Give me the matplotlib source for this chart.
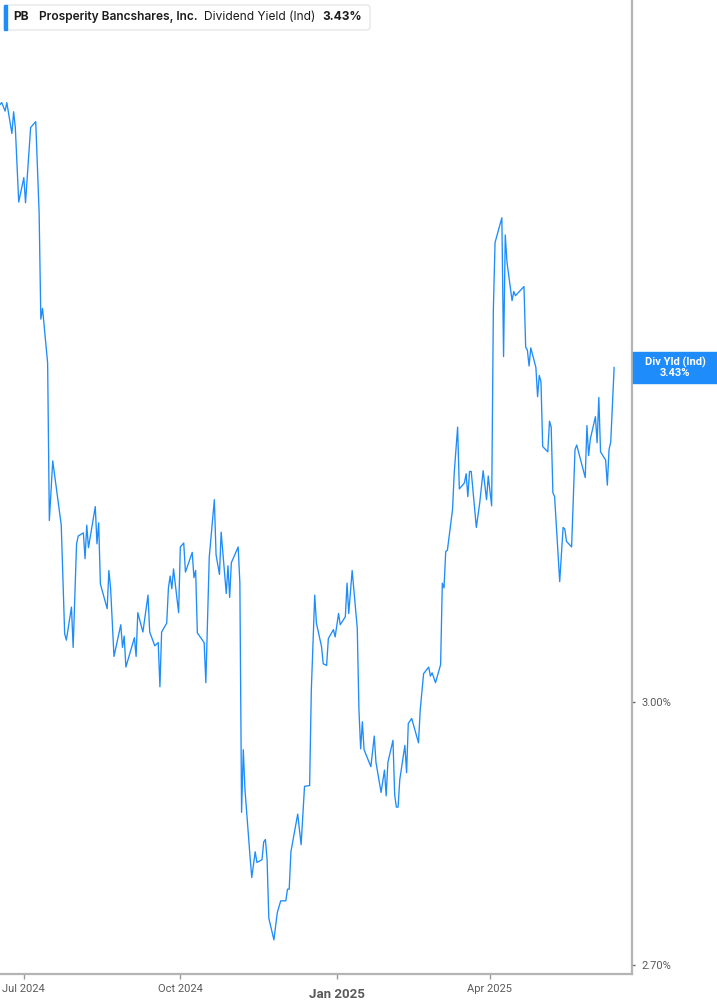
import matplotlib
matplotlib.use("Agg")
import matplotlib.pyplot as plt
from matplotlib.patches import FancyBboxPatch, Rectangle
from matplotlib.ticker import FixedLocator, NullLocator
import pandas as pd

# PB dividend yield (indicated), %
dates = [
    "2024-06-17", "2024-06-18", "2024-06-20", "2024-06-21", "2024-06-24", "2024-06-25", "2024-06-26", "2024-06-28",
    "2024-07-01", "2024-07-02", "2024-07-05", "2024-07-08", "2024-07-10", "2024-07-11", "2024-07-12", "2024-07-15",
    "2024-07-16", "2024-07-18", "2024-07-23", "2024-07-25", "2024-07-26", "2024-07-29", "2024-07-30",
    "2024-08-01", "2024-08-02", "2024-08-05", "2024-08-06", "2024-08-07", "2024-08-08", "2024-08-12", "2024-08-13",
    "2024-08-14", "2024-08-15", "2024-08-19", "2024-08-20", "2024-08-21", "2024-08-23", "2024-08-27", "2024-08-28",
    "2024-08-29", "2024-08-30",
    "2024-09-04", "2024-09-05", "2024-09-06", "2024-09-09", "2024-09-12", "2024-09-13", "2024-09-16", "2024-09-18",
    "2024-09-19", "2024-09-20", "2024-09-23", "2024-09-24", "2024-09-25", "2024-09-26", "2024-09-27", "2024-09-30",
    "2024-10-01", "2024-10-03", "2024-10-04", "2024-10-08", "2024-10-09", "2024-10-10", "2024-10-11", "2024-10-15",
    "2024-10-16", "2024-10-18", "2024-10-21", "2024-10-22", "2024-10-24", "2024-10-25", "2024-10-28", "2024-10-29",
    "2024-10-30", "2024-10-31",
    "2024-11-04", "2024-11-05", "2024-11-06", "2024-11-07", "2024-11-08", "2024-11-11", "2024-11-12", "2024-11-14",
    "2024-11-15", "2024-11-18", "2024-11-19", "2024-11-20", "2024-11-21", "2024-11-22", "2024-11-25", "2024-11-27",
    "2024-11-29",
    "2024-12-02", "2024-12-03", "2024-12-04", "2024-12-05", "2024-12-09", "2024-12-11", "2024-12-13", "2024-12-16",
    "2024-12-17", "2024-12-19", "2024-12-20", "2024-12-23", "2024-12-24", "2024-12-26", "2024-12-27", "2024-12-30",
    "2024-12-31",
    "2025-01-02", "2025-01-03", "2025-01-06", "2025-01-07", "2025-01-08", "2025-01-10", "2025-01-13", "2025-01-14",
    "2025-01-15", "2025-01-16", "2025-01-17", "2025-01-21", "2025-01-23", "2025-01-24", "2025-01-27", "2025-01-29",
    "2025-01-30", "2025-01-31",
    "2025-02-03", "2025-02-04", "2025-02-05", "2025-02-06", "2025-02-07", "2025-02-10", "2025-02-11", "2025-02-12",
    "2025-02-14", "2025-02-18", "2025-02-19", "2025-02-21", "2025-02-24", "2025-02-25", "2025-02-26", "2025-02-28",
    "2025-03-03", "2025-03-04", "2025-03-05", "2025-03-06", "2025-03-07", "2025-03-10", "2025-03-11", "2025-03-13",
    "2025-03-14", "2025-03-17", "2025-03-18", "2025-03-19", "2025-03-20", "2025-03-21", "2025-03-24", "2025-03-26",
    "2025-03-28", "2025-03-30", "2025-03-31",
    "2025-04-02", "2025-04-03", "2025-04-04", "2025-04-06", "2025-04-08", "2025-04-09", "2025-04-10", "2025-04-11",
    "2025-04-14", "2025-04-15", "2025-04-16", "2025-04-21", "2025-04-22", "2025-04-23", "2025-04-24", "2025-04-25",
    "2025-04-28", "2025-04-29", "2025-04-30",
    "2025-05-01", "2025-05-02", "2025-05-05", "2025-05-06", "2025-05-07", "2025-05-08", "2025-05-09", "2025-05-12",
    "2025-05-14", "2025-05-15", "2025-05-16", "2025-05-19", "2025-05-21", "2025-05-22", "2025-05-27", "2025-05-28",
    "2025-05-29", "2025-05-30",
    "2025-06-02", "2025-06-03", "2025-06-04", "2025-06-05", "2025-06-08", "2025-06-09", "2025-06-10", "2025-06-11",
    "2025-06-13",
]
yields = [
    3.811, 3.814, 3.801, 3.814, 3.767, 3.800, 3.776, 3.665,
    3.701, 3.664, 3.776, 3.785, 3.649, 3.497, 3.512, 3.436,
    3.226, 3.304, 3.220, 3.083, 3.075, 3.116, 3.066,
    3.196, 3.206, 3.210, 3.177, 3.220, 3.191, 3.244, 3.196,
    3.223, 3.145, 3.114, 3.162, 3.140, 3.055, 3.094, 3.066,
    3.080, 3.042,
    3.078, 3.055, 3.109, 3.085, 3.131, 3.085, 3.068, 3.072,
    3.018, 3.085, 3.096, 3.140, 3.155, 3.139, 3.164, 3.109,
    3.192, 3.197, 3.160, 3.185, 3.153, 3.162, 3.084, 3.072,
    3.023, 3.179, 3.253, 3.182, 3.157, 3.211, 3.133, 3.168,
    3.128, 3.172,
    3.192, 3.146, 2.870, 2.943, 2.896, 2.819, 2.796, 2.825,
    2.813, 2.816, 2.836, 2.839, 2.816, 2.751, 2.727, 2.757,
    2.770,
    2.770, 2.783, 2.783, 2.825, 2.868, 2.833, 2.900, 2.901,
    3.014, 3.131, 3.096, 3.067, 3.046, 3.044, 3.077, 3.088,
    3.079,
    3.108, 3.094, 3.104, 3.146, 3.108, 3.162, 3.090, 2.990,
    2.944, 2.976, 2.943, 2.923, 2.959, 2.928, 2.893, 2.919,
    2.889, 2.928,
    2.954, 2.890, 2.876, 2.876, 2.908, 2.948, 2.916, 2.974,
    2.980, 2.951, 2.990, 3.034, 3.042, 3.031, 3.035, 3.023,
    3.045, 3.146, 3.140, 3.186, 3.188, 3.240, 3.288, 3.349,
    3.267, 3.275, 3.287, 3.257, 3.290, 3.290, 3.217, 3.249,
    3.291, 3.253, 3.284,
    3.245, 3.510, 3.606, 3.624, 3.642, 3.445, 3.617, 3.578,
    3.523, 3.536, 3.530, 3.543, 3.458, 3.454, 3.432, 3.457,
    3.430, 3.390, 3.419,
    3.410, 3.323, 3.316, 3.357, 3.349, 3.262, 3.257, 3.148,
    3.217, 3.215, 3.199, 3.192, 3.319, 3.325, 3.282, 3.351,
    3.311, 3.333,
    3.363, 3.328, 3.389, 3.316, 3.305, 3.272, 3.319, 3.329,
    3.430,
]

x_ticks = ["2024-07-01", "2024-10-01", "2025-01-01", "2025-04-01"]
x_labels = ["Jul 2024", "Oct 2024", "Jan 2025", "Apr 2025"]
y_ticks = [2.70, 3.00]

ticker = "PB"
company = "Prosperity Bancshares, Inc."
metric = "Dividend Yield (Ind)"
last_label = "3.43%"

BLUE = "#1e8cfa"
GREY = "#b4b4b4"
W, H = 717, 1005

fig = plt.figure(figsize=(W / 100, H / 100), dpi=100)
ax = fig.add_axes([0, 31 / H, 632 / W, 1 - 31 / H])

x = pd.to_datetime(dates)
ax.plot(x, yields, color=BLUE, lw=0.95)

ax.set_yscale("log")
ax.set_ylim(2.690, 3.974)
start = pd.Timestamp("2024-06-17")
ax.set_xlim(start, start + pd.Timedelta(days=371.5))

for s in ["top", "left"]:
    ax.spines[s].set_visible(False)
for s in ["right", "bottom"]:
    ax.spines[s].set_color(GREY)
    ax.spines[s].set_linewidth(1.6)

ax.yaxis.tick_right()
ax.yaxis.set_major_locator(FixedLocator(y_ticks))
ax.yaxis.set_minor_locator(NullLocator())
ax.set_yticklabels([f"{v:.2f}%" for v in y_ticks])
ax.tick_params(axis="y", length=2.5, width=1, color="#666666", pad=4,
               labelsize=8, labelcolor="#5a5a5a")
for lab in ax.get_yticklabels():
    lab.set_family(["Roboto", "DejaVu Sans"])

ax.set_xticks(pd.to_datetime(x_ticks))
ax.set_xticklabels(x_labels)
ax.tick_params(axis="x", length=3.5, width=1, color="#999999", pad=4,
               labelsize=8, labelcolor="#5a5a5a")
for lab in ax.get_xticklabels():
    lab.set_family(["Roboto", "DejaVu Sans"])
    if lab.get_text() == "Jan 2025":
        lab.set_fontweight("bold")
        lab.set_fontsize(9.5)
        lab.set_y(-0.004)

# helpers: pixel coords (from top-left) -> inches for dpi_scale_trans
def px(v):
    return v / 100

def py(v):
    return (H - v) / 100

T = fig.dpi_scale_trans

# header box
fig.patches.append(FancyBboxPatch((px(4), py(30)), px(366), px(25),
                                  boxstyle="round,pad=0,rounding_size=0.03",
                                  facecolor="white", edgecolor="#e2e2e2", lw=0.8,
                                  transform=T))
fig.patches.append(Rectangle((px(4), py(30)), px(3), px(25), color=BLUE, transform=T))
hdr = dict(transform=T, va="center", ha="left", fontsize=8.6, color="#1c1c1c",
           family=["Inter", "DejaVu Sans"])
fig.text(px(13), py(17), ticker, fontweight="bold", **hdr)
fig.text(px(39), py(17), company, fontweight="semibold", **hdr)
fig.text(px(204), py(17), metric, fontweight="normal", **hdr)
fig.text(px(322), py(17), last_label, fontweight="bold", **hdr)

# last value tag on the right axis
fig.canvas.draw()
y_last = ax.transData.transform((matplotlib.dates.date2num(x[-1]), yields[-1]))[1] / 100
fig.patches.append(Rectangle((px(633), y_last - px(15.5)), px(84), px(31), color=BLUE, transform=T))
tag = dict(transform=T, ha="center", va="center", color="white", fontsize=8,
           fontweight="bold", family=["Roboto", "DejaVu Sans"])
fig.text(px(675), y_last + px(5.5), "Div Yld (Ind)", **tag)
fig.text(px(675), y_last - px(5.5), last_label, **tag)

fig.savefig("out.png", dpi=100)
